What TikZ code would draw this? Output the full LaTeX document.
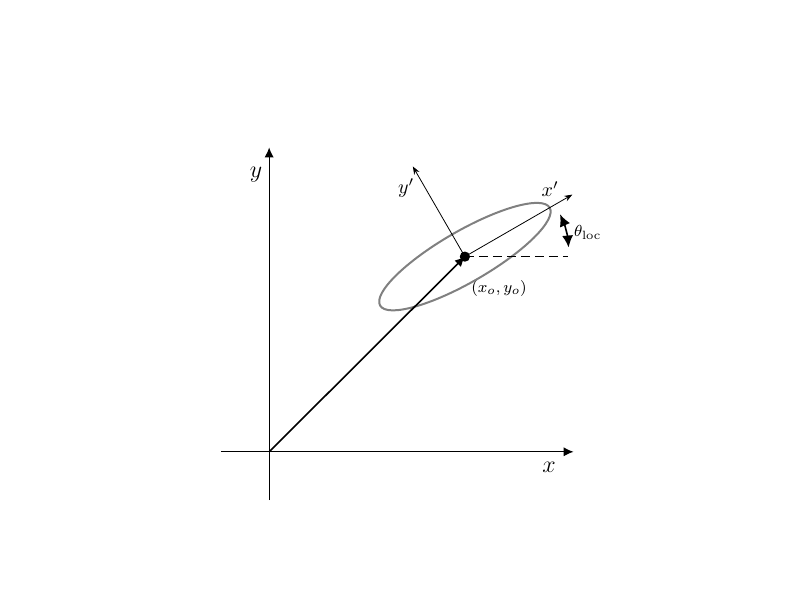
\documentclass[tikz,border=0pt]{standalone}
\usepackage{amssymb}
\usepackage{tikz}
\usepackage{mathtools}
\usetikzlibrary{arrows.meta,calc}

\begin{document}
\begin{tikzpicture}[>={Latex[length=5pt,width=4.6pt]}]
		\useasboundingbox (-4.73,-2.81) rectangle (9.54,7.94);
		%Points du repère
		\coordinate (O) at (0,0);
		\coordinate (Xm) at (-0.85,0);
		\coordinate (Xp) at (5.35,0);
		\coordinate (Ym) at (0,-0.85);
		\coordinate (Yp) at (0,5.35);
		\coordinate (C) at (3.44,3.43);
		\coordinate (Xl) at ($(C)+(30:2.18)$);
		\coordinate (Yl) at ($(C)+(120:1.83)$);
		\coordinate (H) at ($(C)+(1.81,0)$);
		%Etiquettes
		\node (LX) at (4.92,-0.28) {\large $x$};
		\node (LY) at (-0.23,4.87) {\large $y$};
		\node (LXl) at (4.94,4.62) {$x'$};
		\node (LYl) at (2.41,4.64) {$y'$};
		\node (LC) at (4.04,2.87) {\footnotesize $(x_o,y_o)$};
		\node (LT) at (5.6,3.85) {\footnotesize $\theta_{\mathrm{loc}}$};
		%Axes globaux
		\draw[semithick,->] (Xm) -- (Xp);
		\draw[semithick,->] (Ym) -- (Yp);
		%Ellipse et axes locaux
		\draw[gray,line width=1pt,rotate around={30:(C)}] (C) ellipse (1.72 and 0.45);
		\draw[thick,->] (O) -- (C);
		\draw[-{Stealth[length=4pt,width=3pt]}] (C) -- (Xl);
		\draw[-{Stealth[length=4pt,width=3pt]}] (C) -- (Yl);
		\draw[dash pattern=on 4.5pt off 2.5pt] (C) -- (H);
		\draw[thick,{Latex[length=6pt,width=5.5pt]}-{Latex[length=6pt,width=5.5pt]}] ($(C)+(5:1.83)$) arc (5:24:1.83);
		\fill (C) circle (0.09);
	\end{tikzpicture}
\end{document}
